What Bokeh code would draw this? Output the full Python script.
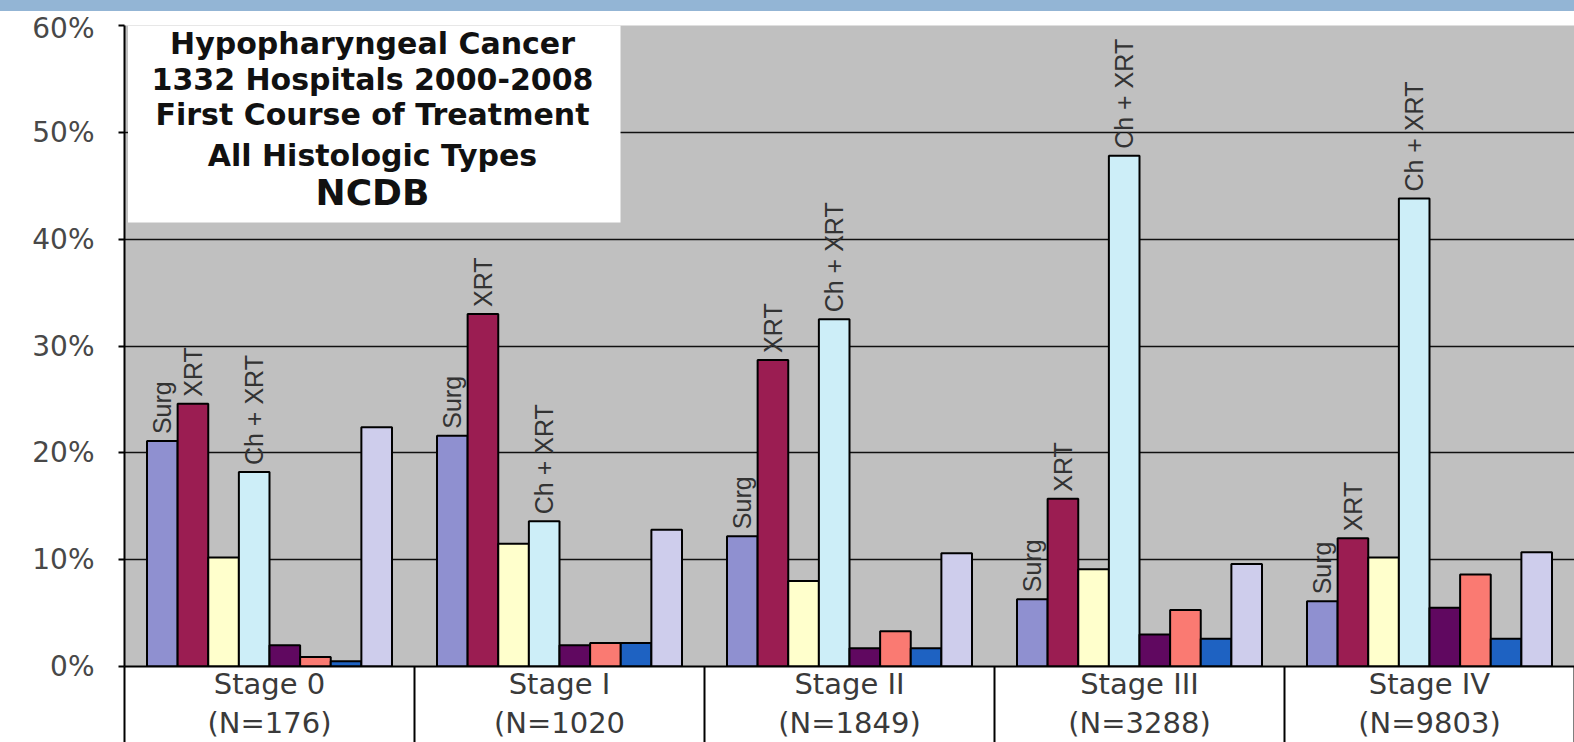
import math
from bokeh.plotting import figure
from bokeh.models import FixedTicker, PrintfTickFormatter, Div, ColumnDataSource
from bokeh.layouts import column
from bokeh.core.properties import value
from bokeh.embed import file_html
from bokeh.resources import INLINE

# ---------------- data ----------------
stage_names = ["Stage 0", "Stage I", "Stage II", "Stage III", "Stage IV"]
stage_counts = ["(N=176)", "(N=1020", "(N=1849)", "(N=3288)", "(N=9803)"]

surg = [21.1, 21.6, 12.2, 6.3, 6.1]
xrt = [24.6, 33.0, 28.7, 15.7, 12.0]
series3 = [10.2, 11.5, 8.0, 9.1, 10.2]
ch_xrt = [18.2, 13.6, 32.5, 47.8, 43.8]
series5 = [2.0, 2.0, 1.7, 3.0, 5.5]
series6 = [0.9, 2.2, 3.3, 5.3, 8.6]
series7 = [0.5, 2.2, 1.7, 2.6, 2.6]
series8 = [22.4, 12.8, 10.6, 9.6, 10.7]

series_values = [surg, xrt, series3, ch_xrt, series5, series6, series7, series8]
series_labels = ["Surg", "XRT", "", "Ch + XRT", "", "", "", ""]
series_colors = ["#8f90d0", "#9b1d52", "#ffffcc", "#cdeef8",
                 "#600860", "#fa7a72", "#1e62c2", "#cecdec"]

y_ticks = [0, 10, 20, 30, 40, 50, 60]

title_lines = ["Hypopharyngeal Cancer", "1332 Hospitals 2000-2008",
               "First Course of Treatment", "All Histologic Types"]
title_last = "NCDB"

# ---------------- layout constants ----------------
W = 1574
BAND_H = 11
FIG_H = 742 - BAND_H
TOP = 14          # frame top within figure
BOTTOM = 76       # space below frame
LEFT = 124
FRAME_H = FIG_H - TOP - BOTTOM
n_cat = len(stage_names)
n_ser = len(series_values)
bar_w = 0.1056
start = (1 - n_ser * bar_w) / 2


def py2data(page_y):
    """convert a page pixel y to a data value"""
    fy = page_y - BAND_H - TOP
    return 60 * (1 - fy / FRAME_H)


p = figure(width=W, height=FIG_H, x_range=(0, n_cat), y_range=(0, 60),
           output_backend="svg", toolbar_location=None,
           min_border_left=LEFT, min_border_right=0, min_border_top=TOP,
           min_border_bottom=BOTTOM)
p.background_fill_color = "#c0c0c0"
p.border_fill_color = "white"
p.outline_line_color = None

# grid
p.xgrid.visible = False
p.ygrid.ticker = FixedTicker(ticks=[10, 20, 30, 40, 50])
p.ygrid.grid_line_color = "#111111"
p.ygrid.grid_line_width = 1.6

# y axis
ya = p.yaxis[0]
ya.ticker = FixedTicker(ticks=y_ticks)
ya.formatter = PrintfTickFormatter(format="%d%%")
ya.axis_line_color = "black"
ya.axis_line_width = 2
ya.major_tick_line_color = "black"
ya.major_tick_line_width = 2
ya.major_tick_out = 6
ya.major_tick_in = 0
ya.minor_tick_line_color = None
ya.minor_tick_out = 0
ya.minor_tick_in = 0
ya.major_label_standoff = 24
ya.major_label_text_font = "DejaVu Sans"
ya.major_label_text_font_size = "28px"
ya.major_label_text_color = "#484848"

# x axis
xa = p.xaxis[0]
centers = [i + 0.5 for i in range(n_cat)]
xa.ticker = FixedTicker(ticks=centers, minor_ticks=list(range(n_cat + 1)))
xa.major_label_overrides = {c: f"{n}\n{k}" for c, n, k in zip(centers, stage_names, stage_counts)}
xa.axis_line_color = "black"
xa.axis_line_width = 2
xa.major_tick_line_color = None
xa.major_tick_out = 0
xa.major_tick_in = 0
xa.minor_tick_line_color = "black"
xa.minor_tick_line_width = 2
xa.minor_tick_out = BOTTOM
xa.minor_tick_in = 0
xa.major_label_standoff = 0 - BOTTOM
xa.major_label_text_font = "DejaVu Sans"
xa.major_label_text_font_size = "29px"
xa.major_label_text_line_height = 1.16
xa.major_label_text_color = "#3a3a3a"

# bars
for j, (vals, col, lab) in enumerate(zip(series_values, series_colors, series_labels)):
    xs = [i + start + (j + 0.5) * bar_w for i in range(n_cat)]
    src = ColumnDataSource(dict(x=xs, top=vals))
    p.vbar(x="x", top="top", bottom=0, width=bar_w, source=src,
           fill_color=col, line_color="black", line_width=2)
    if lab:
        tsrc = ColumnDataSource(dict(x=xs, y=vals, t=[lab] * n_cat))
        p.text(x="x", y="y", text="t", source=tsrc, angle=math.pi / 2,
               text_align="left", text_baseline="middle", y_offset=-7,
               text_font=value("Liberation Sans"), text_font_size="25px",
               text_color="#333333")

# title box
box_right = (620 - LEFT) / ((W - LEFT) / n_cat)
box_bottom = py2data(222)
p.quad(left=[0.012], right=[box_right], bottom=[box_bottom], top=[60],
       fill_color="white", line_color=None)
cx = box_right / 2
title_page_y = [43, 79, 114, 155]
for line, yy in zip(title_lines, title_page_y):
    p.text(x=[cx], y=[py2data(yy)], text=[line], text_align="center",
           text_baseline="middle", text_font=value("DejaVu Sans"),
           text_font_style="bold", text_font_size="30px", text_color="#111111")
p.text(x=[cx], y=[py2data(192)], text=[title_last], text_align="center",
       text_baseline="middle", text_font=value("DejaVu Sans"),
       text_font_style="bold", text_font_size="36px", text_color="#111111")

band = Div(width=W, height=BAND_H, margin=0,
           styles={"background-color": "#93b5d5"})
layout = column(band, p, spacing=0)

open("out.html", "w").write(file_html(layout, INLINE))
